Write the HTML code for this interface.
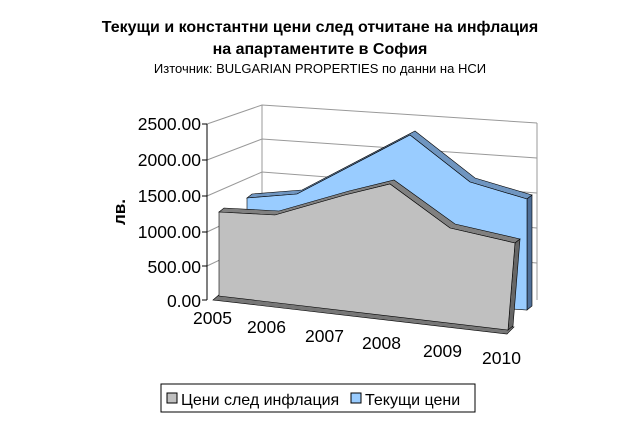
<!DOCTYPE html>
<html><head><meta charset="utf-8"><style>
body{margin:0;background:#fff}
svg text{font-family:"Liberation Sans",sans-serif}
</style></head><body>
<svg width="640" height="416" viewBox="0 0 640 416" xmlns="http://www.w3.org/2000/svg">
<text x="320" y="32" text-anchor="middle" font-size="16" font-weight="bold">Текущи и константни цени след отчитане на инфлация</text>
<text x="320" y="54" text-anchor="middle" font-size="16" font-weight="bold">на апартаментите в София</text>
<text x="320" y="73" text-anchor="middle" font-size="13">Източник: BULGARIAN PROPERTIES по данни на НСИ</text>
<g stroke="#999" stroke-width="1" fill="none">
<polyline points="207,124 262,105 537,123"/>
<polyline points="207,160 262,139 537,158"/>
<polyline points="207,196 262,172 537,193"/>
<polyline points="207,232 262,206 537,228"/>
<polyline points="207,266 262,240 537,263"/>
<line x1="262" y1="105" x2="262" y2="275"/>
<line x1="537" y1="123" x2="537" y2="300"/>
</g>
<line x1="207" y1="124" x2="207" y2="300" stroke="#000"/>
<g stroke="#000" stroke-width="1">
<line x1="202" y1="124" x2="207" y2="124"/><line x1="202" y1="160" x2="207" y2="160"/>
<line x1="202" y1="196" x2="207" y2="196"/><line x1="202" y1="232" x2="207" y2="232"/>
<line x1="202" y1="266" x2="207" y2="266"/><line x1="202" y1="300" x2="207" y2="300"/>
</g>
<polygon points="247,198 252,194 302,190 415,131 475,178 532,195 527,199 470,182 410,135 297,194" fill="#6f95c0" stroke="#000" stroke-width="0.6"/>
<polygon points="527,199 532,195 532,306 527,310" fill="#4f6f98" stroke="#000" stroke-width="0.6"/>
<polygon points="247,198 297,194 410,135 470,182 527,199 527,310 247,290" fill="#99ccff" stroke="#000" stroke-width="0.6"/>
<polygon points="213,300 220,294 514,327 507,334" fill="#777" stroke="#000" stroke-width="0.6"/>
<polygon points="219,212 224,208 279,211 349,191 394,180 455,224 520,239 515,243 450,228 390,184 345,195 275,215" fill="#808080" stroke="#000" stroke-width="0.6"/>
<polygon points="515,243 520,239 513,326 508,330" fill="#666" stroke="#000" stroke-width="0.6"/>
<polygon points="219,212 275,215 345,195 390,184 450,228 515,243 508,330 219,296" fill="#c0c0c0" stroke="#000" stroke-width="0.6"/>
<g font-size="17.5" text-anchor="end">
<text x="201" y="130">2500.00</text><text x="201" y="166">2000.00</text>
<text x="201" y="202">1500.00</text><text x="201" y="238">1000.00</text>
<text x="201" y="273">500.00</text><text x="201" y="307">0.00</text>
</g>
<g font-size="17.5">
<text x="193" y="324">2005</text><text x="247" y="333">2006</text>
<text x="305" y="342">2007</text><text x="362" y="349">2008</text>
<text x="423" y="357">2009</text><text x="482" y="364">2010</text>
</g>
<text transform="translate(125,212) rotate(-90)" font-size="17" font-weight="bold" text-anchor="middle">лв.</text>
<rect x="161" y="384" width="314" height="28" fill="#fff" stroke="#000"/>
<rect x="167" y="393" width="10" height="10" fill="#c0c0c0" stroke="#000"/>
<text x="181" y="405" font-size="16">Цени след инфлация</text>
<rect x="351" y="393" width="10" height="10" fill="#99ccff" stroke="#000"/>
<text x="365" y="405" font-size="16">Текущи цени</text>
</svg>
</body></html>
